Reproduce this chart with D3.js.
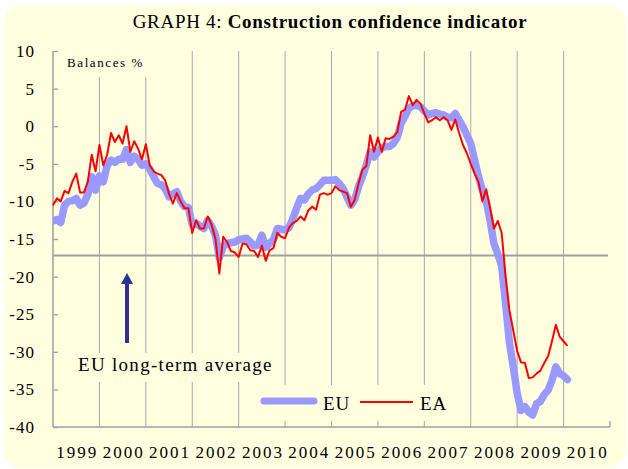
<!DOCTYPE html>
<html>
<head>
<meta charset="utf-8">
<script src="https://cdn.jsdelivr.net/npm/d3@7/dist/d3.min.js"></script>
<style>
  html, body { margin: 0; padding: 0; background: #ffffff; }
  svg { display: block; }
  text { font-family: "Liberation Serif", "Times New Roman", serif; fill: #000; }
</style>
</head>
<body>
<svg id="chart" width="628" height="469"></svg>
<script>
// Monthly series, January 1999 to February 2010 (balances, %)
const startYear = 1999;
const euValues = [
  -12.6, -12.4, -12.8, -10.5, -10.0, -9.9, -9.6, -10.5, -10.2, -9.1, -6.7, -8.5,
  -6.6, -7.4, -5.2, -4.5, -4.8, -4.4, -4.4, -3.1, -4.8, -4.0, -4.4, -5.2,
  -5.0, -5.7, -6.7, -7.6, -7.8, -8.3, -9.4, -9.0, -8.7, -10.0, -10.7, -10.8,
  -13.1, -12.9, -13.3, -13.6, -12.5, -13.3, -14.5, -17.5, -16.0, -15.6, -15.5, -15.4,
  -15.1, -15.0, -14.9, -15.4, -15.9, -15.8, -14.5, -16.1, -15.6, -15.1, -13.6, -13.7,
  -13.8, -13.5, -12.3, -10.9, -9.6, -9.8, -9.0, -8.5, -8.3, -7.8, -7.2, -7.2,
  -7.2, -7.1, -7.6, -8.3, -9.4, -10.5, -9.8, -8.0, -6.7, -5.2, -3.4, -4.1,
  -3.4, -2.9, -2.7, -2.7, -2.3, -1.5, 0.4, 1.3, 2.4, 2.7, 2.8, 2.6,
  2.0, 1.5, 1.7, 1.8, 1.6, 1.5, 1.2, 1.1, 1.7, 0.8, -0.1, -1.2,
  -2.3, -4.5, -6.7, -8.5, -10.0, -12.5, -15.6, -17.0, -18.6, -23.5, -28.8, -32.0,
  -35.5, -37.8, -37.3, -38.0, -38.4, -36.9, -36.6, -35.7, -35.1, -33.8, -32.0, -32.9,
  -33.2, -33.7
];
const eaValues = [
  -10.5, -9.6, -10.0, -8.6, -8.9, -7.4, -6.3, -8.8, -8.8, -7.4, -3.8, -6.0,
  -2.5, -5.2, -3.8, -0.9, -2.1, -1.2, -2.3, 0.0, -3.4, -2.0, -3.0, -4.4,
  -2.4, -5.2, -6.0, -6.3, -6.5, -7.2, -9.0, -10.3, -8.9, -10.0, -10.9, -10.9,
  -14.2, -12.5, -13.6, -13.6, -12.0, -13.1, -15.0, -19.6, -14.7, -15.4, -16.6, -16.8,
  -17.4, -15.6, -15.7, -16.5, -16.6, -17.4, -15.9, -17.9, -16.5, -16.2, -14.2, -14.7,
  -14.9, -13.5, -12.9, -12.6, -12.0, -12.5, -11.2, -10.7, -11.1, -9.1, -8.9, -9.1,
  -8.9, -8.0, -8.5, -8.7, -8.9, -10.7, -9.8, -7.6, -5.8, -5.3, -1.2, -3.4,
  -1.5, -3.4, -1.6, -1.7, -1.4, -0.8, 1.9, 2.2, 4.0, 2.8, 3.5, 3.0,
  1.7, 0.5, 0.8, 1.2, 0.8, 1.2, 0.8, -0.5, 0.9, -0.9, -2.5, -3.6,
  -5.0, -6.3, -7.4, -10.0, -8.4, -10.9, -13.6, -12.6, -14.2, -20.0, -24.5, -27.2,
  -29.9, -31.4, -31.5, -33.5, -33.4, -32.9, -32.5, -31.5, -30.6, -28.6, -26.4, -28.0,
  -28.6, -29.2
];
const longTermAverage = -17.2;
const yearLabels = ["1999", "2000", "2001", "2002", "2003", "2004", "2005", "2006", "2007", "2008", "2009", "2010"];
const yTicks = [10, 5, 0, -5, -10, -15, -20, -25, -30, -35, -40];
const seriesNames = ["EU", "EA"];

const svg = d3.select("#chart");
const bg = "#FFFFE0";

// Panel background
svg.append("rect")
  .attr("x", 4).attr("y", 5).attr("width", 622).attr("height", 463)
  .attr("rx", 18).attr("ry", 18)
  .attr("fill", bg);

const plot = { left: 53, right: 610, top: 51, bottom: 427 };
const x = d3.scaleLinear().domain([startYear, startYear + yearLabels.length]).range([plot.left, plot.right]);
const y = d3.scaleLinear().domain([-40, 10]).range([plot.bottom, plot.top]);

// Keep the series to the right of the value axis
svg.append("clipPath").attr("id", "plot-clip")
  .append("rect")
  .attr("x", plot.left).attr("y", 0)
  .attr("width", 628 - plot.left).attr("height", 469);

// Title
const title = svg.append("text")
  .attr("x", 330).attr("y", 28)
  .attr("text-anchor", "middle")
  .attr("font-size", 19)
  .attr("letter-spacing", 0.7);
title.append("tspan").text("GRAPH 4: ");
title.append("tspan").attr("font-weight", "bold").text("Construction confidence indicator");

// Vertical year gridlines
const gridYears = d3.range(startYear + 1, startYear + yearLabels.length);
svg.append("g").selectAll("line")
  .data(gridYears).join("line")
  .attr("x1", d => x(d)).attr("x2", d => x(d))
  .attr("y1", plot.top).attr("y2", plot.bottom)
  .attr("stroke", "#A8A8A8").attr("stroke-width", 1);

// Label backgrounds that interrupt the gridlines
svg.append("rect").attr("x", 55).attr("y", 50).attr("width", 106).attr("height", 27).attr("fill", bg);
svg.append("rect").attr("x", 70).attr("y", 353).attr("width", 208).attr("height", 29).attr("fill", bg);
svg.append("rect").attr("x", 245).attr("y", 385).attr("width", 220).attr("height", 36).attr("fill", bg);

// Axes
const axisColor = "#A0A0A0";
const yAxis = d3.axisRight(y).tickValues(yTicks).tickSize(5).tickFormat("");
svg.append("g").attr("transform", `translate(${plot.left},0)`).call(yAxis)
  .call(g => g.select(".domain").remove())
  .call(g => g.selectAll("line").attr("stroke", axisColor).attr("stroke-width", 1.3));
svg.append("line")
  .attr("x1", plot.left).attr("x2", plot.left).attr("y1", plot.top).attr("y2", plot.bottom)
  .attr("stroke", axisColor).attr("stroke-width", 1.5);
svg.append("line")
  .attr("x1", plot.left).attr("x2", plot.right).attr("y1", plot.bottom).attr("y2", plot.bottom)
  .attr("stroke", axisColor).attr("stroke-width", 1.5);
svg.append("line")
  .attr("x1", plot.right).attr("x2", plot.right).attr("y1", plot.bottom - 6).attr("y2", plot.bottom)
  .attr("stroke", axisColor).attr("stroke-width", 1.3);

// Y tick labels
svg.append("g").selectAll("text")
  .data(yTicks).join("text")
  .attr("x", 35).attr("y", d => y(d) + 6)
  .attr("text-anchor", "end")
  .attr("font-size", 17)
  .attr("letter-spacing", 1)
  .text(d => d);

// X year labels, centred in each year
svg.append("g").selectAll("text")
  .data(yearLabels).join("text")
  .attr("x", (d, i) => x(startYear + i + 0.5) + 1)
  .attr("y", 458)
  .attr("text-anchor", "middle")
  .attr("font-size", 17)
  .attr("letter-spacing", 2)
  .text(d => d);

// Long-term average reference line
svg.append("line")
  .attr("x1", plot.left).attr("x2", 608)
  .attr("y1", y(longTermAverage)).attr("y2", y(longTermAverage))
  .attr("stroke", "#A0A0A0").attr("stroke-width", 2);

// Series lines
const monthX = i => x(startYear + i / 12);
const line = d3.line().x((d, i) => monthX(i)).y(d => y(d));

svg.append("path")
  .datum(euValues)
  .attr("d", line)
  .attr("clip-path", "url(#plot-clip)")
  .attr("fill", "none")
  .attr("stroke", "#9999FF")
  .attr("stroke-width", 7.5)
  .attr("stroke-linejoin", "round")
  .attr("stroke-linecap", "round");

svg.append("path")
  .datum(eaValues)
  .attr("d", line)
  .attr("fill", "none")
  .attr("stroke", "#FF0000")
  .attr("stroke-width", 2)
  .attr("stroke-linejoin", "round");

// Axis unit label
svg.append("text")
  .attr("x", 67).attr("y", 67)
  .attr("font-size", 13)
  .attr("letter-spacing", 1.6)
  .text("Balances %");

// Arrow pointing at the long-term average
const arrowColor = "#2E3192";
svg.append("line")
  .attr("x1", 127).attr("x2", 127)
  .attr("y1", 343).attr("y2", 282)
  .attr("stroke", arrowColor).attr("stroke-width", 4);
svg.append("path")
  .attr("d", "M127,273 L121,284 L133,284 Z")
  .attr("fill", arrowColor);

svg.append("text")
  .attr("x", 78).attr("y", 371)
  .attr("font-size", 19)
  .attr("letter-spacing", 1.3)
  .text("EU long-term average");

// Legend
const legend = svg.append("g");
legend.append("line")
  .attr("x1", 264).attr("x2", 314).attr("y1", 401).attr("y2", 401)
  .attr("stroke", "#9999FF").attr("stroke-width", 7).attr("stroke-linecap", "round");
legend.append("text").attr("x", 323).attr("y", 410).attr("font-size", 19).attr("letter-spacing", 0.8).text(seriesNames[0]);
legend.append("line")
  .attr("x1", 360).attr("x2", 413).attr("y1", 402).attr("y2", 402)
  .attr("stroke", "#FF0000").attr("stroke-width", 2);
legend.append("text").attr("x", 420).attr("y", 410).attr("font-size", 19).attr("letter-spacing", 0.8).text(seriesNames[1]);
</script>
</body>
</html>
